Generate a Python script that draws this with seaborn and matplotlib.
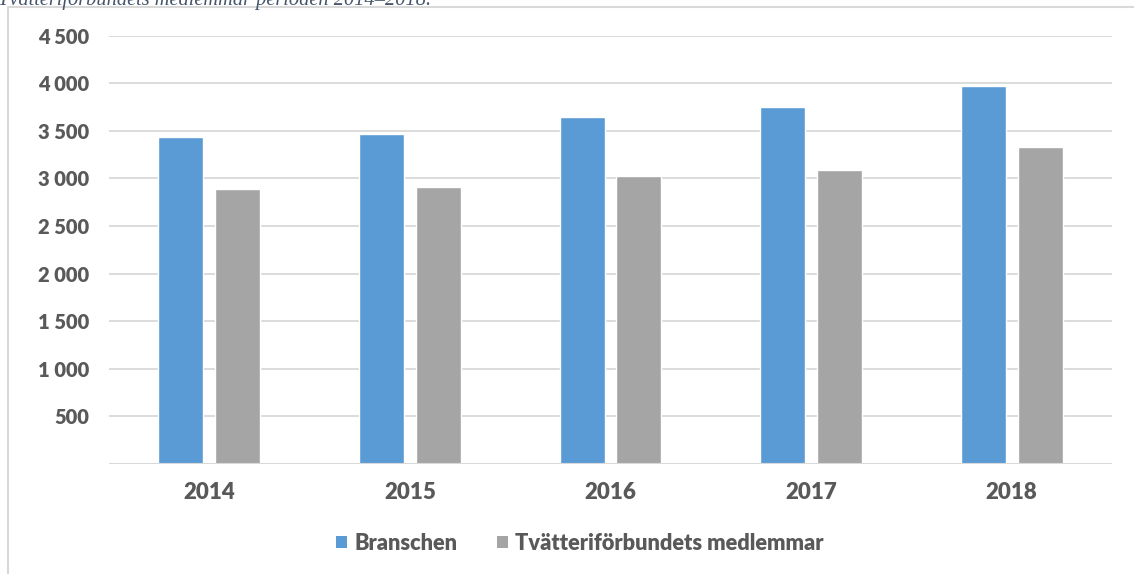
import pandas as pd
import numpy as np
import matplotlib
matplotlib.use("Agg")
import matplotlib.pyplot as plt
import seaborn as sns
from matplotlib.ticker import FuncFormatter
from matplotlib.patches import Rectangle, Patch

# data
years = ["2014", "2015", "2016", "2017", "2018"]
branschen = [3432, 3463, 3645, 3750, 3971]
medlemmar = [2888, 2906, 3028, 3088, 3327]
series = ["Branschen", "Tvätteriförbundets medlemmar"]
colors = ["#5B9BD5", "#A5A5A5"]

df = pd.DataFrame({
    "year": years * 2,
    "value": branschen + medlemmar,
    "series": [series[0]] * len(years) + [series[1]] * len(years),
})

sns.set_theme(style="white")
plt.rcParams["font.family"] = ["Lato", "DejaVu Sans"]
txt = "#595959"

fig = plt.figure(figsize=(11.34, 5.74), dpi=100)
ax = fig.add_axes([109 / 1134, 110 / 574, 1003 / 1134, (464 - 35.6) / 574])

sns.barplot(data=df, x="year", y="value", hue="series", palette=colors,
            width=0.568, gap=0.21, ax=ax, legend=False, saturation=1)

ax.set_ylim(0, 4500)
ax.set_yticks(np.arange(500, 4501, 500))
ax.yaxis.set_major_formatter(FuncFormatter(lambda v, p: f"{int(v):,}".replace(",", " ")))
ax.grid(axis="y", color="#D9D9D9", linewidth=1.3)
ax.set_axisbelow(True)
ax.axhline(0, color="#D9D9D9", linewidth=1.5)
for s in ax.spines.values():
    s.set_visible(False)
ax.tick_params(axis="both", length=0, colors=txt)
ax.tick_params(axis="y", pad=14, labelsize=14.5)
ax.tick_params(axis="x", pad=13, labelsize=16)
for lab in ax.get_xticklabels() + ax.get_yticklabels():
    lab.set_fontweight("heavy")
ax.set_xlabel("")
ax.set_ylabel("")

handles = [Patch(facecolor=c, edgecolor="none") for c in colors]
leg = fig.legend(handles, series, loc="center", bbox_to_anchor=(580 / 1134, 1 - 543 / 574),
                 ncol=2, frameon=False, handlelength=0.5, handleheight=0.5,
                 handletextpad=0.35, columnspacing=1.8,
                 prop={"weight": "heavy", "size": 15.7})
for t in leg.get_texts():
    t.set_color(txt)

# outer frame and clipped caption above it
fig.patches.append(Rectangle((8 / 1134, -0.1), 1.1, 1.1 - 7.5 / 574, transform=fig.transFigure,
                             fill=False, edgecolor="#D9D9D9", linewidth=1.5))
fig.text(-0.002, 1 - 5.5 / 574, "Tvätteriförbundets medlemmar perioden 2014–2018.",
         family="Liberation Serif", style="italic", fontsize=14.7, color="#44546A",
         va="baseline", ha="left")

fig.savefig("out.png", dpi=100)
